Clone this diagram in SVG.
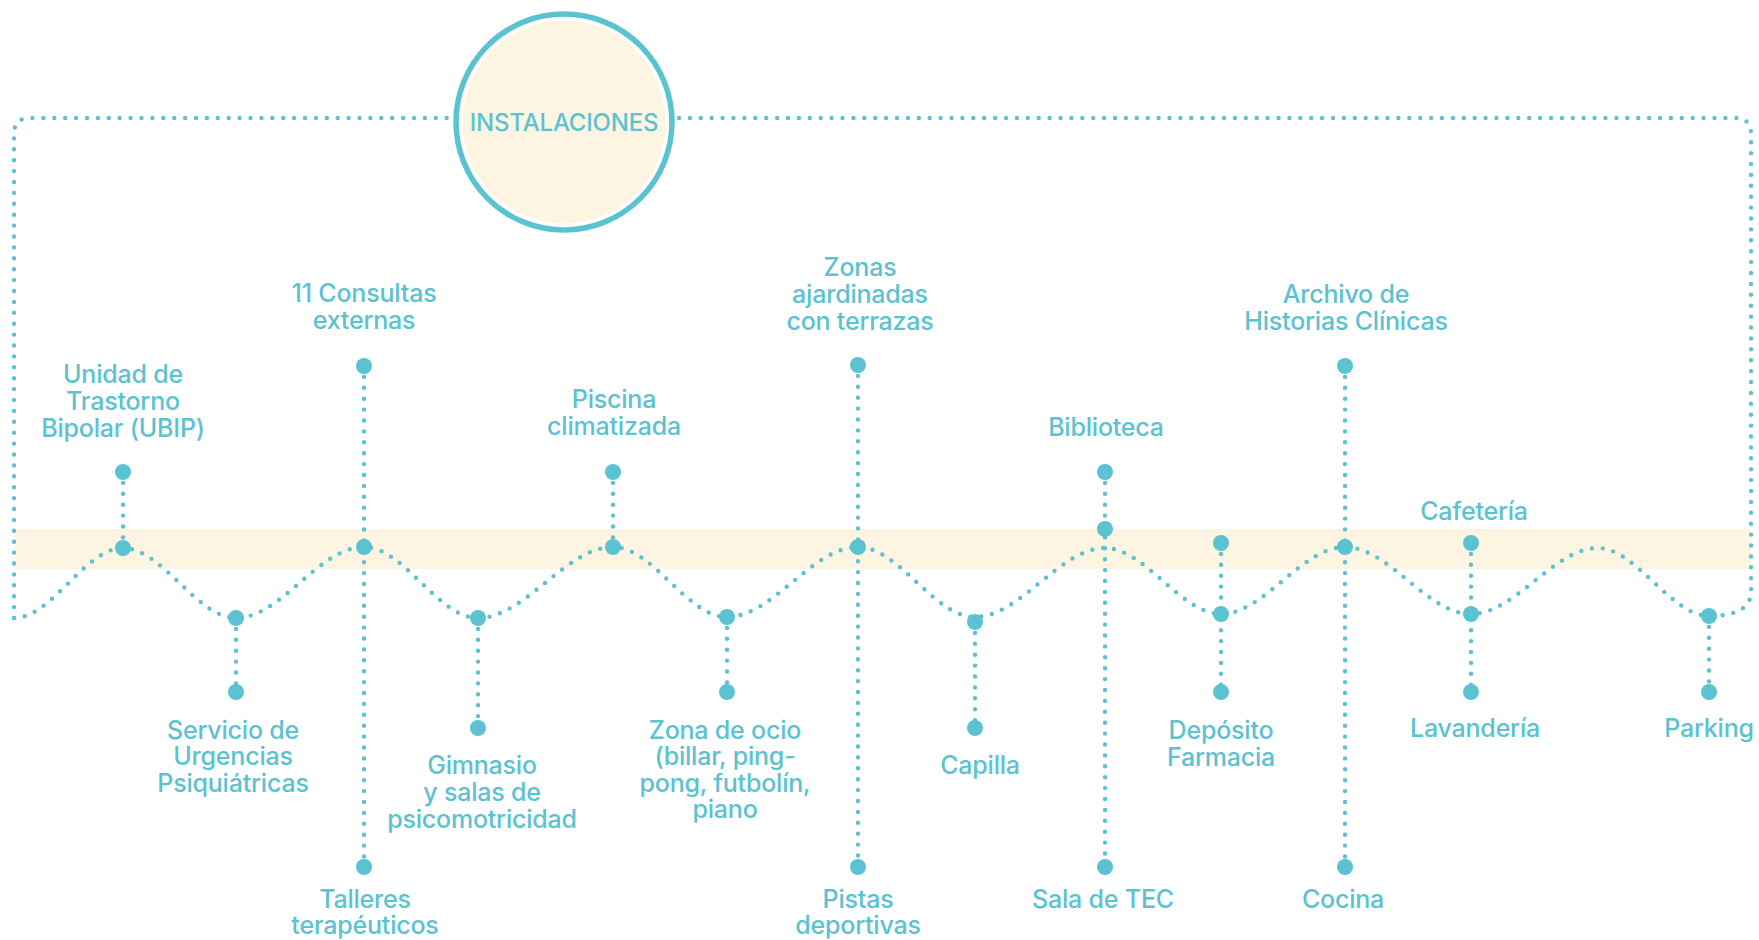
<svg xmlns="http://www.w3.org/2000/svg" width="1759" height="940" viewBox="0 0 1759 940">
<style>
.dl{fill:none;stroke:#5BC2D1;stroke-width:4.4;stroke-linecap:round;stroke-dasharray:0 10.9}
.dot{fill:#5BC2D1}
.lb{font-family:Inter,"Liberation Sans",sans-serif;font-weight:500;font-size:25px;fill:#5BC2D1;text-anchor:middle;letter-spacing:-0.2px}
</style>
<rect x="15" y="529" width="1736" height="40" fill="#FDF5E1"/>
<g id="connectors">
<path class="dl" d="M14,618 V134 Q14,118 30,118 H447"/>
<path class="dl" d="M679,118 H1735 Q1751,118 1751,134 V592"/>
<path class="dl" d="M14,618 C52,618 85,548 123,548 C162,548 197,618 236,618 C281,618 319,547 364,547 C404,547 438,618 478,618 C525,618 566,547 613,547 C653,547 687,617 727,617 C773,617 812,547 858,547 C899,547 934,617 975,617 C1020,617 1060,548 1105,548 C1145,548 1181,614 1221,614 C1264,614 1302,547 1345,547 C1389,547 1427,614 1471,614 C1515,614 1554,548 1598,548 C1636,548 1671,616 1709,616 C1732,616 1751,610 1751,592"/>
<path class="dl" d="M123,472 V548"/>
<path class="dl" d="M236,618 V692"/>
<path class="dl" d="M364,366 V867"/>
<path class="dl" d="M478,618 V728"/>
<path class="dl" d="M613,472 V547"/>
<path class="dl" d="M727,617 V692"/>
<path class="dl" d="M858,365 V867"/>
<path class="dl" d="M975,622 V728"/>
<path class="dl" d="M1105,472 V867"/>
<path class="dl" d="M1221,543 V692"/>
<path class="dl" d="M1345,366 V867"/>
<path class="dl" d="M1471,543 V692"/>
<path class="dl" d="M1709,616 V692"/>
</g>
<g id="instalaciones">
<circle cx="564" cy="122" r="108" fill="#fff" stroke="#5BC2D1" stroke-width="5.5"/>
<circle cx="564" cy="122" r="101.5" fill="#FDF5E1"/>
<text x="564" y="131" class="lb" style="font-size:24px">INSTALACIONES</text>
</g>
<g id="ubip"><circle class="dot" cx="123" cy="472" r="8"/><circle class="dot" cx="123" cy="548" r="8"/>
<text class="lb" x="123" y="383">Unidad de</text><text class="lb" x="123" y="410">Trastorno</text><text class="lb" x="123" y="437">Bipolar (UBIP)</text></g>
<g id="urgencias"><circle class="dot" cx="236" cy="618" r="8"/><circle class="dot" cx="236" cy="692" r="8"/>
<text class="lb" x="233" y="739">Servicio de</text><text class="lb" x="233" y="765">Urgencias</text><text class="lb" x="233" y="792">Psiquiátricas</text></g>
<g id="consultas"><circle class="dot" cx="364" cy="366" r="8"/><circle class="dot" cx="364" cy="547" r="8"/>
<text class="lb" x="364" y="302">11 Consultas</text><text class="lb" x="364" y="329">externas</text></g>
<g id="talleres"><circle class="dot" cx="364" cy="867" r="8"/>
<text class="lb" x="365" y="908">Talleres</text><text class="lb" x="365" y="934">terapéuticos</text></g>
<g id="gimnasio"><circle class="dot" cx="478" cy="618" r="8"/><circle class="dot" cx="478" cy="728" r="8"/>
<text class="lb" x="482" y="774">Gimnasio</text><text class="lb" x="482" y="801">y salas de</text><text class="lb" x="482" y="828">psicomotricidad</text></g>
<g id="piscina"><circle class="dot" cx="613" cy="472" r="8"/><circle class="dot" cx="613" cy="547" r="8"/>
<text class="lb" x="614" y="408">Piscina</text><text class="lb" x="614" y="435">climatizada</text></g>
<g id="ocio"><circle class="dot" cx="727" cy="617" r="8"/><circle class="dot" cx="727" cy="692" r="8"/>
<text class="lb" x="725" y="739">Zona de ocio</text><text class="lb" x="725" y="765">(billar, ping-</text><text class="lb" x="725" y="792">pong, futbolín,</text><text class="lb" x="725" y="818">piano</text></g>
<g id="zonas"><circle class="dot" cx="858" cy="365" r="8"/><circle class="dot" cx="858" cy="547" r="8"/>
<text class="lb" x="860" y="276">Zonas</text><text class="lb" x="860" y="303">ajardinadas</text><text class="lb" x="860" y="330">con terrazas</text></g>
<g id="pistas"><circle class="dot" cx="858" cy="867" r="8"/>
<text class="lb" x="858" y="908">Pistas</text><text class="lb" x="858" y="934">deportivas</text></g>
<g id="capilla"><circle class="dot" cx="975" cy="622" r="8"/><circle class="dot" cx="975" cy="728" r="8"/>
<text class="lb" x="980" y="774">Capilla</text></g>
<g id="biblioteca"><circle class="dot" cx="1105" cy="472" r="8"/><circle class="dot" cx="1105" cy="529" r="8"/>
<text class="lb" x="1106" y="436">Biblioteca</text></g>
<g id="tec"><circle class="dot" cx="1105" cy="867" r="8"/>
<text class="lb" x="1103" y="908">Sala de TEC</text></g>
<g id="farmacia"><circle class="dot" cx="1221" cy="543" r="8"/><circle class="dot" cx="1221" cy="614" r="8"/><circle class="dot" cx="1221" cy="692" r="8"/>
<text class="lb" x="1221" y="739">Depósito</text><text class="lb" x="1221" y="766">Farmacia</text></g>
<g id="archivo"><circle class="dot" cx="1345" cy="366" r="8"/><circle class="dot" cx="1345" cy="547" r="8"/>
<text class="lb" x="1346" y="303">Archivo de</text><text class="lb" x="1346" y="330">Historias Clínicas</text></g>
<g id="cocina"><circle class="dot" cx="1345" cy="867" r="8"/>
<text class="lb" x="1343" y="908">Cocina</text></g>
<g id="cafeteria"><circle class="dot" cx="1471" cy="543" r="8"/><circle class="dot" cx="1471" cy="614" r="8"/>
<text class="lb" x="1474" y="520">Cafetería</text></g>
<g id="lavanderia"><circle class="dot" cx="1471" cy="692" r="8"/>
<text class="lb" x="1475" y="737">Lavandería</text></g>
<g id="parking"><circle class="dot" cx="1709" cy="616" r="8"/><circle class="dot" cx="1709" cy="692" r="8"/>
<text class="lb" x="1709" y="737">Parking</text></g>
</svg>
